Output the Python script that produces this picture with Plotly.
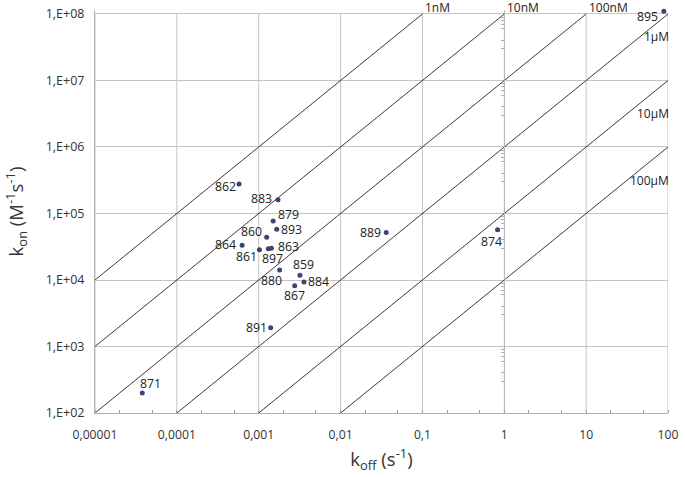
import numpy as np
import plotly.graph_objects as go

# measured rate constants
ids = ["895", "862", "883", "879", "893", "860", "864", "861", "897", "863",
       "880", "859", "884", "867", "891", "889", "874", "871"]
koff = [89, 5.75e-4, 1.72e-3, 1.50e-3, 1.66e-3, 1.25e-3, 6.27e-4, 1.02e-3, 1.31e-3, 1.43e-3,
        1.80e-3, 3.19e-3, 3.57e-3, 2.75e-3, 1.40e-3, 0.0361, 0.828, 3.78e-5]
kon = [1.1e8, 2.78e5, 1.61e5, 7.7e4, 5.78e4, 4.39e4, 3.33e4, 2.86e4, 2.96e4, 3.0e4,
       1.41e4, 1.18e4, 9.34e3, 8.2e3, 1.92e3, 5.2e4, 5.7e4, 2.0e2]

# iso-affinity lines (KD = koff / kon)
kd_values = [1e-9, 1e-8, 1e-7, 1e-6, 1e-5, 1e-4]
kd_labels = ["1nM", "10nM", "100nM", "1µM", "10µM", "100µM"]

x_ticks = [1e-5, 1e-4, 1e-3, 1e-2, 1e-1, 1, 10, 100]
x_ticktext = ["0,00001", "0,0001", "0,001", "0,01", "0,1", "1", "10", "100"]
y_ticks = [1e2, 1e3, 1e4, 1e5, 1e6, 1e7, 1e8]
y_ticktext = ["1,E+02", "1,E+03", "1,E+04", "1,E+05", "1,E+06", "1,E+07", "1,E+08"]

# label offsets in px (dx, dy downward)
label_shift = {
    "895": (-16, 5), "862": (-14, 3), "883": (-16, -1), "879": (15, -7),
    "893": (15, 0), "860": (-15, -6), "864": (-17, -1), "861": (-13, 7),
    "897": (4, 10), "863": (17, -2), "880": (-8, 10), "859": (4, -11),
    "884": (15, 0), "867": (0, 10), "891": (-14, 0), "889": (-16, 0),
    "874": (-6, 12), "871": (8, -9),
}

FONT = "Open Sans"
XMIN, XMAX, YMIN, YMAX = 1e-5, 100, 1e2, 1e8
# y range is a touch above 1e8 so the 895 point (just over the top) stays visible
Y_RANGE = [2, 8.06]

fig = go.Figure()

# vertical grid lines, stopping at the top gridline
for xv in x_ticks:
    fig.add_trace(go.Scatter(x=[xv, xv], y=[YMIN, YMAX], mode="lines",
                             line=dict(color="#c4c4c4", width=1),
                             hoverinfo="skip", showlegend=False))

for kd in kd_values:
    x0 = max(XMIN, YMIN * kd)
    x1 = min(XMAX, YMAX * kd)
    xl = np.array([x0, x1])
    fig.add_trace(go.Scatter(x=xl, y=xl / kd, mode="lines",
                             line=dict(color="#3a3a3a", width=1),
                             hoverinfo="skip", showlegend=False))

fig.add_trace(go.Scatter(x=koff, y=kon, mode="markers", cliponaxis=False,
                         marker=dict(color="#3f4371", size=5),
                         text=ids, showlegend=False))

for i, k, v in zip(ids, koff, kon):
    dx, dy = label_shift[i]
    fig.add_annotation(x=np.log10(k), y=np.log10(v), text=i, showarrow=False,
                       xshift=dx, yshift=-dy, xanchor="center", yanchor="middle",
                       font=dict(family=FONT, size=12.3, color="#222"))

# KD labels: top ones above the plot, right ones at the right edge
for kd, lab in zip(kd_values, kd_labels):
    xt = YMAX * kd
    if xt < XMAX:
        fig.add_annotation(x=np.log10(xt), y=8, text=lab, showarrow=False,
                           xanchor="left", yanchor="middle", xshift=1, yshift=6,
                           font=dict(family=FONT, size=12, color="#222"))
y_right = {"1µM": 7.66, "10µM": 6.51, "100µM": 5.49}
for lab, yv in y_right.items():
    fig.add_annotation(x=1, xref="paper", y=yv, text=lab, showarrow=False,
                       xanchor="right", yanchor="middle", xshift=3,
                       font=dict(family=FONT, size=12, color="#222"))

fig.update_xaxes(type="log", range=[-5, 2], tickvals=x_ticks, ticktext=x_ticktext,
                 showgrid=False, automargin=False,
                 showline=True, linecolor="#b0b0b0", mirror=False,
                 ticks="", ticklabelstandoff=10,
                 minor=dict(ticks="inside", ticklen=3, tickcolor="#a0a0a0", showgrid=False),
                 tickfont=dict(family=FONT, size=12.2, color="#333"),
                 title=dict(text="k<sub>off</sub> (s<sup>-1</sup>)", standoff=11,
                            font=dict(family=FONT, size=18.5, color="#333")),
                 zeroline=False)
fig.update_yaxes(type="log", range=Y_RANGE, tickvals=y_ticks, ticktext=y_ticktext,
                 showgrid=True, gridcolor="#c4c4c4", gridwidth=1, automargin=False,
                 showline=True, linecolor="#b0b0b0", ticks="", ticklabelstandoff=7,
                 tickfont=dict(family=FONT, size=12.5, color="#333"),
                 title=dict(text="k<sub>on</sub> (M<sup>-1</sup>s<sup>-1</sup>)", standoff=17,
                            font=dict(family=FONT, size=18.5, color="#333")),
                 zeroline=False)

# secondary y axis line crossing at koff = 1 with minor ticks
fig.update_layout(yaxis2=dict(type="log", range=Y_RANGE, overlaying="y", anchor="free",
                              position=5/7, side="left", automargin=False,
                              showline=True, linecolor="#b8b8b8", showgrid=False,
                              showticklabels=False, ticks="",
                              minor=dict(ticks="outside", ticklen=3, tickcolor="#b0b0b0")))
fig.add_trace(go.Scatter(x=[None], y=[None], yaxis="y2", showlegend=False))

fig.update_layout(width=685, height=477, plot_bgcolor="white", paper_bgcolor="white",
                  margin=dict(l=95, r=17, t=10, b=64))

# drop the default 8px body margin so the figure fills the window
fig.write_html("out.html", config={"displayModeBar": False},
               post_script="document.body.style.margin='0';")
